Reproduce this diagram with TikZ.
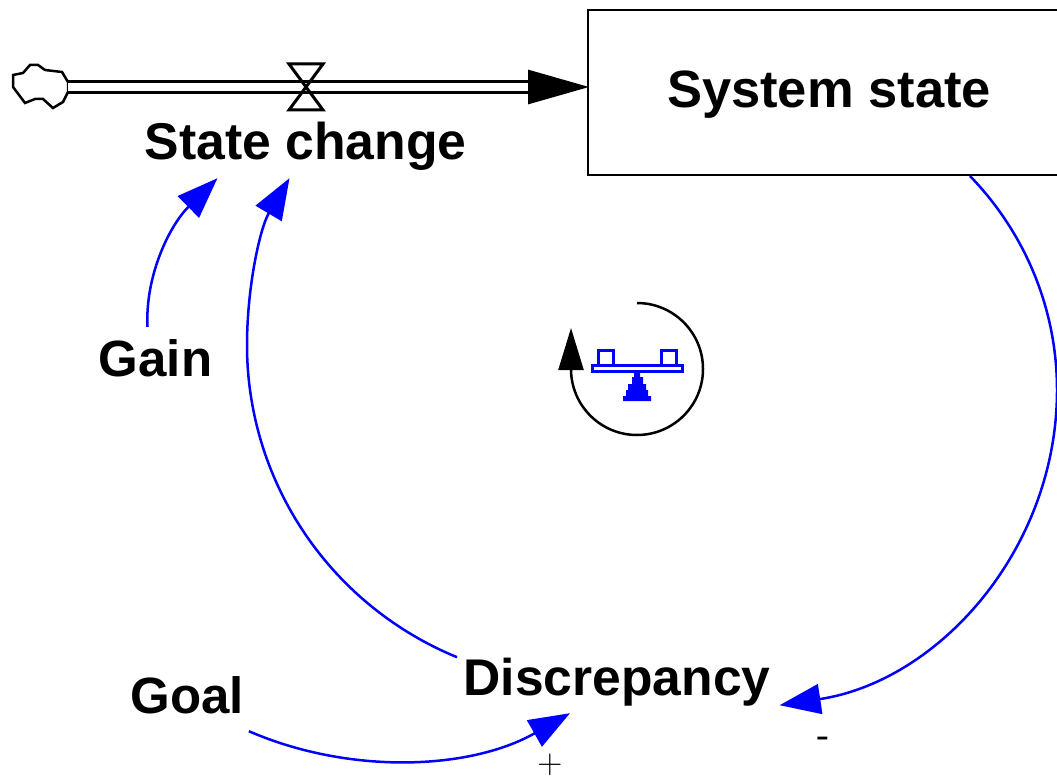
\documentclass[tikz,border=0pt]{standalone}
\usepackage{fontspec}
\setmainfont{Liberation Sans}
\newfontfamily\signfont{Liberation Serif}
\usetikzlibrary{arrows.meta}
\tikzset{
  labeltext/.style={font=\fontsize{#1}{60}\selectfont\bfseries, text height=37, text depth=11, inner sep=0},
  labeltext/.default=51,
  signtext/.style={font=\fontsize{#1}{44}\selectfont, inner sep=0},
  linkarrow/.style={blue, line width=2.5pt, -{Triangle[length=41pt,width=30pt]}},
}
\begin{document}
\begin{tikzpicture}[x=1pt,y=1pt]
\clip (0,0) rectangle (1057,-781);
\node[draw, line width=2pt, minimum width=482, minimum height=165, labeltext=52.5, text height=39, text depth=8] (state) at (829,-92.5) {System state};
\node[labeltext=51.7] (change) at (305.5,-147) {State change};
\node[labeltext] (gain) at (155.5,-363.5) {Gain};
\node[labeltext] (goal) at (187,-700) {Goal};
\node[labeltext=51.6] (discrepancy) at (617,-682.5) {Discrepancy};
\node[signtext=34, scale=1.4] (plus) at (550,-765) {$+$};
\node[signtext=38] (minus) at (823,-742) {\signfont -};
\coordinate (source) at (68,-87);
\coordinate (flowend) at (530,-87);
\coordinate (valve) at (306,-87);
\coordinate (balance) at (637,-369);
\draw[line width=2.5pt] (68,-82) -- (62,-72) -- (45,-70) -- (38,-65) -- (30,-65) -- (23,-73) -- (13,-75) -- (13,-87) -- (25,-103) -- (35,-99) -- (43,-99) -- (53,-108) -- (63,-102) -- (68,-92) -- cycle;
\draw[line width=3pt, double, double distance=7.5pt] (source) -- (flowend);
\draw[line width=3pt, -{Triangle[length=61pt,width=34pt]}] (flowend) -- ([xshift=2pt,yshift=5.5pt]state.west);
\draw[line width=3pt] (valve) -- (289,-64) -- (323,-64) -- (289,-110) -- (323,-110) -- cycle;
\draw[linkarrow] ([xshift=141pt]state.south) .. controls (1026,-234) and (1057,-310) .. (1057,-390) .. controls (1057,-549) and (939,-681) .. ([xshift=9pt,yshift=1.5pt]discrepancy.east |- discrepancy.south);
\draw[linkarrow] ([xshift=-160pt,yshift=49.5pt]discrepancy.south) .. controls (330,-605) and (247,-482) .. (247,-345) .. controls (247,-287) and (260,-228) .. ([xshift=-16pt,yshift=-7pt]change.south);
\draw[linkarrow] ([xshift=-8pt,yshift=12.5pt]gain.north) .. controls (145,-275) and (170,-225) .. ([xshift=-88pt,yshift=-7pt]change.south);
\draw[linkarrow] ([xshift=5pt,yshift=-7pt]goal.south east) .. controls (350,-775) and (470,-770) .. ([xshift=-47pt,yshift=-6.5pt]discrepancy.south);
\draw[line width=2.5pt, -{Triangle[length=42pt,width=25pt]}] (637,-303) arc[start angle=90, end angle=-180, radius=66pt] -- (571,-328);
\draw[blue, line width=3pt] (592,-365) rectangle (682,-371);
\draw[blue, line width=3pt] (598,-350) rectangle (613,-365);
\draw[blue, line width=3pt] (661,-350) rectangle (676,-365);
\fill[blue] (634,-371) -- (640,-371) -- (640,-377) -- (643,-377) -- (643,-384) -- (646,-384) -- (646,-390) -- (648,-390) -- (648,-396) -- (651,-396) -- (651,-401) -- (623,-401) -- (623,-396) -- (626,-396) -- (626,-390) -- (628,-390) -- (628,-384) -- (632,-384) -- (632,-377) -- (634,-377) -- cycle;
\end{tikzpicture}
\end{document}
